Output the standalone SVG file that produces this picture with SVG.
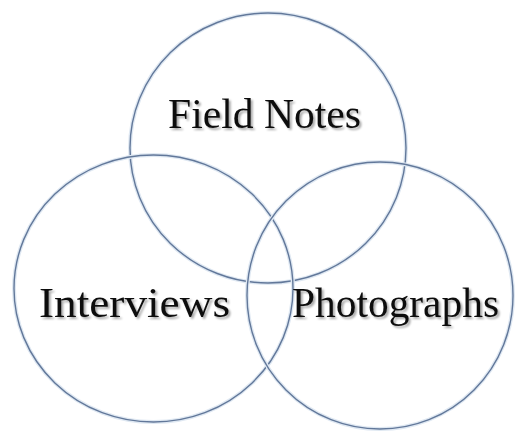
<svg xmlns="http://www.w3.org/2000/svg" width="516" height="432" viewBox="0 0 516 432">
  <style>
    .ring { fill: none; stroke: #62789a; stroke-width: 1.4; }
    .halo { fill: none; stroke: #dfe8f2; stroke-width: 4; }
    .label { font-family: "Liberation Serif", "Times New Roman", serif; font-size: 42px; fill: #111111; }
  </style>
  <defs>
    <filter id="shadow" x="-10%" y="-20%" width="120%" height="150%">
      <feGaussianBlur in="SourceAlpha" stdDeviation="1.2"/>
      <feOffset dx="1.5" dy="2" result="b"/>
      <feComponentTransfer><feFuncA type="linear" slope="0.35"/></feComponentTransfer>
      <feMerge><feMergeNode/><feMergeNode in="SourceGraphic"/></feMerge>
    </filter>
  </defs>
  <rect width="516" height="432" fill="#ffffff"/>
  <g id="field-notes">
    <ellipse class="halo" cx="268" cy="148" rx="138" ry="135"/>
    <ellipse class="ring" cx="268" cy="148" rx="138" ry="135"/>
    <text class="label" x="168" y="128" textLength="193" lengthAdjust="spacingAndGlyphs" filter="url(#shadow)">Field Notes</text>
  </g>
  <g id="interviews">
    <ellipse class="halo" cx="153.5" cy="288.5" rx="139.5" ry="133.5"/>
    <ellipse class="ring" cx="153.5" cy="288.5" rx="139.5" ry="133.5"/>
    <text class="label" x="39" y="317" textLength="191" lengthAdjust="spacingAndGlyphs" filter="url(#shadow)">Interviews</text>
  </g>
  <g id="photographs">
    <ellipse class="halo" cx="380" cy="295.5" rx="133" ry="133.5"/>
    <ellipse class="ring" cx="380" cy="295.5" rx="133" ry="133.5"/>
    <text class="label" x="292" y="317" textLength="207" lengthAdjust="spacingAndGlyphs" filter="url(#shadow)">Photographs</text>
  </g>
  <g id="connectors"></g>
</svg>
